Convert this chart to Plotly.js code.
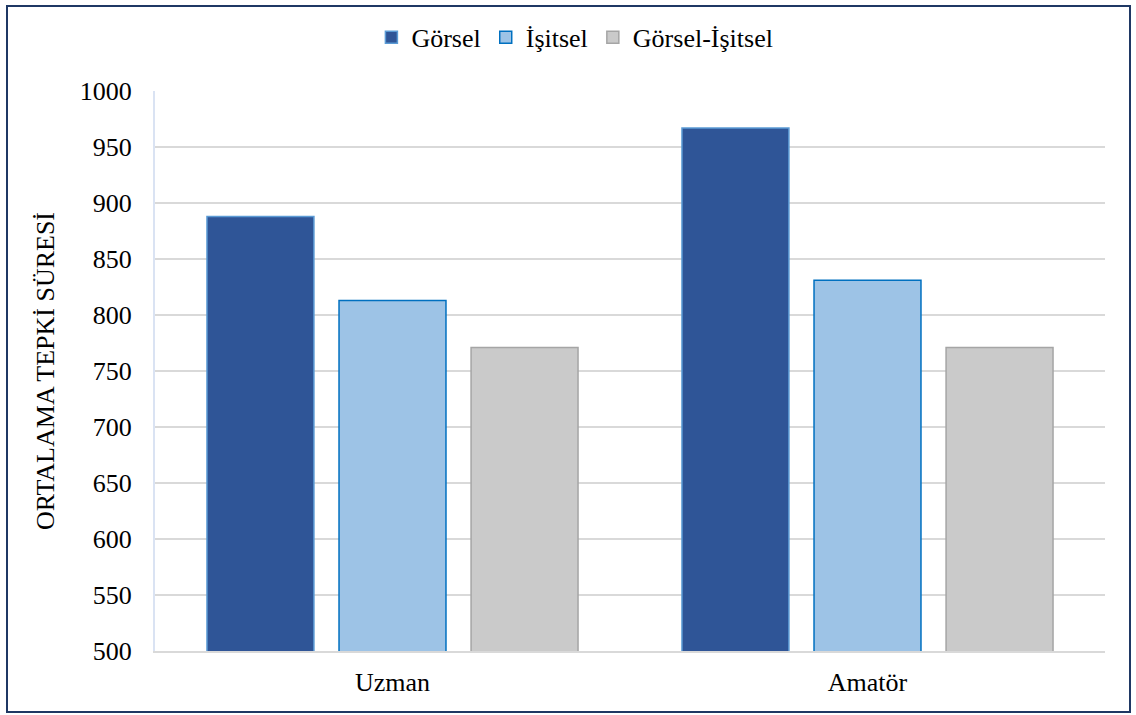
<!DOCTYPE html>
<html><head><meta charset="utf-8">
<script src="https://cdn.plot.ly/plotly-3.0.1.min.js"></script>
<style>
html,body{margin:0;padding:0;background:#fff;}
#chart{width:1136px;height:715px;}
#frame{position:absolute;left:6px;top:5px;width:1121px;height:704px;border:2px solid #1f3864;pointer-events:none;}
</style></head>
<body>
<div id="chart"></div>
<div id="frame"></div>
<script>
const categories = ["Uzman", "Amatör"];
const seriesNames = ["Görsel", "İşitsel", "Görsel-İşitsel"];
const gorsel = [888, 967];
const isitsel = [813, 831];
const gorselIsitsel = [771, 771];
const yTicks = [500, 550, 600, 650, 700, 750, 800, 850, 900, 950, 1000];

const FAM = "Liberation Serif, Times New Roman, serif";
const styles = [
  {fill: "#2f5597", line: "#5b9bd5"},
  {fill: "#9dc3e6", line: "#0070c0"},
  {fill: "#cacaca", line: "#a5a5a5"}
];
const values = [gorsel, isitsel, gorselIsitsel];

const traces = values.map((v, i) => ({
  type: "bar",
  name: seriesNames[i],
  x: categories,
  y: v,
  base: 0,
  marker: {color: styles[i].fill, line: {color: styles[i].line, width: 1.5}},
  hoverinfo: "x+y+name"
}));

const layout = {
  width: 1136, height: 715,
  margin: {l: 155, r: 31, t: 91, b: 64},
  paper_bgcolor: "#fff", plot_bgcolor: "#fff",
  font: {family: FAM, size: 26, color: "#000"},
  barmode: "group",
  bargap: 0.166,
  bargroupgap: 0.19,
  showlegend: true,
  legend: {orientation: "h", x: 0.442, xanchor: "center", y: 1.096, yanchor: "middle",
           font: {family: FAM, size: 26, color: "#000"}, itemwidth: 30, traceorder: "normal"},
  xaxis: {showgrid: false, zeroline: false, showline: true, linecolor: "#d9d9d9", linewidth: 2,
          ticks: "", ticklabelstandoff: 7, tickfont: {family: FAM, size: 26, color: "#000"}},
  yaxis: {range: [500, 1000], tickvals: yTicks, ticktext: yTicks.map(String),
          showgrid: true, gridcolor: "#d9d9d9", gridwidth: 2, zeroline: false,
          showline: true, linecolor: "#dae3f3", linewidth: 2, ticks: "",
          ticklabelstandoff: 16, tickfont: {family: FAM, size: 26, color: "#000"},
          title: {text: "ORTALAMA TEPKİ SÜRESİ", font: {family: FAM, size: 26, color: "#000"}, standoff: 18}}
};

Plotly.newPlot("chart", traces, layout, {displayModeBar: false, staticPlot: true});
</script>
</body></html>
